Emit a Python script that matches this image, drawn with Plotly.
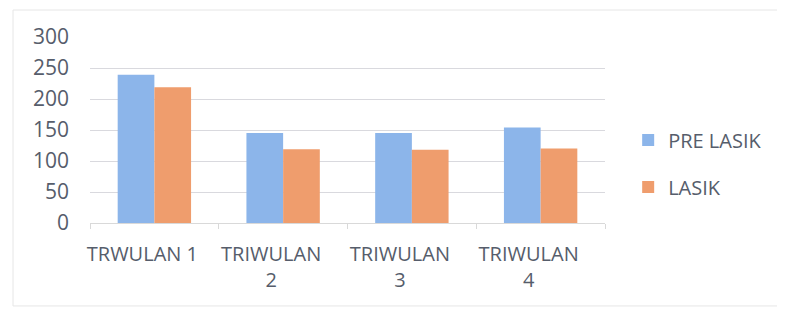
import plotly.graph_objects as go

categories = ["TRWULAN 1", "TRIWULAN<br>2", "TRIWULAN<br>3", "TRIWULAN<br>4"]
pre_lasik = [239, 145, 145, 154]
lasik = [219, 119, 118, 120]
y_ticks = [0, 50, 100, 150, 200, 250, 300]

font_family = "Open Sans, Liberation Sans, sans-serif"
text_color = "#565d6b"

fig = go.Figure()
fig.add_trace(go.Bar(x=categories, y=pre_lasik, name="PRE LASIK",
                     marker=dict(color="#8CB5EA", line=dict(width=0)),
                     legendgroup="a"))
fig.add_trace(go.Bar(x=categories, y=lasik, name="LASIK",
                     marker=dict(color="#EF9D6D", line=dict(width=0)),
                     legendgroup="b"))

fig.update_layout(
    width=777, height=304,
    margin=dict(l=82, r=180, t=29, b=89, autoexpand=False),
    paper_bgcolor="white", plot_bgcolor="white",
    barmode="group", bargap=0.43, bargroupgap=0,
    font=dict(family=font_family, color=text_color, size=20),
    showlegend=True,
    legend=dict(x=1.045, y=0.32, xanchor="left", yanchor="middle",
                traceorder="grouped", tracegroupgap=18,
                font=dict(size=20, color=text_color)),
    xaxis=dict(showgrid=False, showline=True, linecolor="#d9d9d9",
               ticks="outside", ticklen=5, tickcolor="#d9d9d9",
               tickson="boundaries", ticklabelshift=-12,
               ticklabelstandoff=13,
               tickfont=dict(size=20, color=text_color)),
    yaxis=dict(range=[0, 300], tickvals=y_ticks, showgrid=True,
               gridcolor="#d9d9de", gridwidth=1, zeroline=False,
               showline=False, ticks="", ticklabelstandoff=20,
               tickfont=dict(size=21, color=text_color)),
    shapes=[dict(type="rect", xref="paper", yref="paper",
                 x0=-0.1495, x1=1.3417, y0=-0.446, y1=1.145,
                 line=dict(color="#e6e6e6", width=1))],
)

fig.write_html("out.html")
